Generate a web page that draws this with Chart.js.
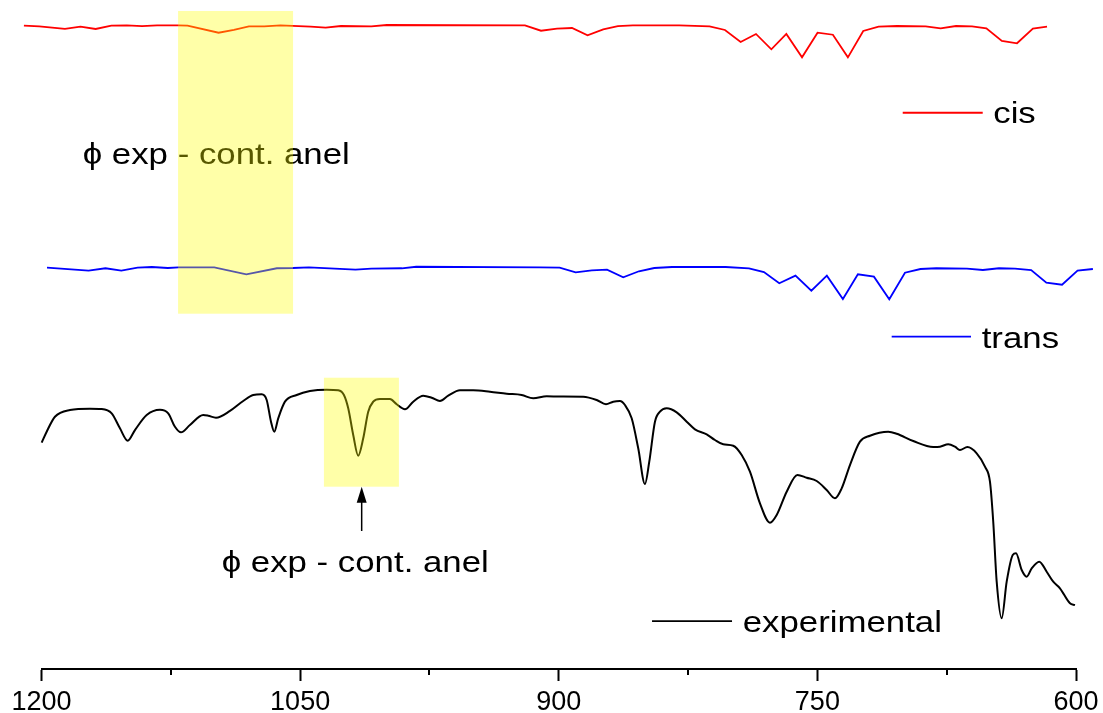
<!DOCTYPE html>
<html>
<head>
<meta charset="utf-8">
<title>IR spectra: cis, trans, experimental</title>
<script src="https://cdn.jsdelivr.net/npm/chart.js@4/dist/chart.umd.min.js"></script>
<style>
  html, body { margin: 0; padding: 0; background: #ffffff; }
  #wrap { width: 1103px; height: 713px; }
</style>
</head>
<body>
<div id="wrap"><canvas id="spectra" width="1103" height="713"></canvas></div>
<script>
// ---- x axis (wavenumber, cm-1) ----
const majorTicks = [1200, 1050, 900, 750, 600];
const minorTicks = [1125, 975, 825, 675];

// ---- calculated spectrum, cis isomer (offset signal) ----
const cisWavenumber = [1210.2, 1201.3, 1186.4, 1177.4, 1168.6, 1159.5, 1150.5, 1141.7, 1133.0, 1120.9,
  1115.3, 1097.3, 1088.4, 1079.7, 1070.8, 1061.4, 1043.9, 1035.2, 1026.3, 1008.7,
  999.7, 919.6, 910.3, 901.0, 892.3, 883.3, 874.2, 865.7, 857.0, 830.1,
  812.5, 803.6, 794.5, 785.6, 776.7, 768.0, 758.9, 749.9, 741.0, 732.3,
  723.4, 714.5, 703.8, 687.2, 678.5, 669.6, 660.3, 652.0, 643.0, 634.2,
  625.0, 616.8];
const cisSignal = [96.16, 96.07, 95.67, 96.01, 95.67, 96.16, 96.22, 96.11, 96.22, 96.22,
  96.16, 95.11, 95.52, 96.07, 96.07, 96.22, 96.01, 95.86, 96.11, 96.07,
  96.26, 96.22, 95.41, 95.71, 95.81, 94.72, 95.62, 96.11, 96.22, 96.22,
  96.07, 95.52, 93.72, 94.92, 92.63, 94.92, 91.43, 95.11, 94.81, 91.43,
  95.37, 96.01, 96.11, 96.07, 95.77, 96.11, 96.07, 95.77, 93.87, 93.53,
  95.71, 96.01];

// ---- calculated spectrum, trans isomer (offset signal) ----
const transWavenumber = [1196.8, 1172.7, 1162.9, 1153.7, 1144.3, 1136.0, 1126.7, 1120.5, 1099.8, 1081.2,
  1063.5, 1054.2, 1044.9, 1017.9, 1008.7, 991.0, 982.7, 910.9, 899.5, 890.2,
  880.8, 872.0, 862.6, 853.5, 844.6, 834.3, 803.2, 789.7, 781.0, 772.1,
  762.7, 753.5, 744.5, 735.2, 726.5, 717.2, 708.3, 699.2, 690.2, 681.0,
  663.3, 654.0, 644.7, 635.4, 626.0, 617.2, 608.1, 599.1, 590.2];
const transSignal = [59.99, 59.54, 59.90, 59.54, 59.99, 60.09, 59.94, 60.04, 60.04, 59.00,
  59.90, 59.94, 60.04, 59.69, 59.84, 59.90, 60.13, 60.04, 59.99, 59.30,
  59.60, 59.69, 58.55, 59.45, 59.94, 60.09, 60.09, 59.90, 59.34, 57.65,
  58.79, 56.55, 58.79, 55.31, 59.00, 58.64, 55.26, 59.24, 59.79, 59.90,
  59.84, 59.64, 59.90, 59.84, 59.64, 57.74, 57.44, 59.54, 59.79];

// ---- measured spectrum ----
const expWavenumber = [1199.9, 1197.0, 1192.2, 1183.5, 1171.9, 1165.1, 1159.3, 1154.5, 1150.0, 1145.8,
  1139.0, 1131.3, 1126.5, 1122.6, 1119.1, 1113.9, 1106.2, 1103.3, 1098.8, 1090.7,
  1083.0, 1077.2, 1072.3, 1069.4, 1066.9, 1065.0, 1062.7, 1058.8, 1052.0, 1044.3,
  1034.6, 1027.9, 1024.6, 1022.1, 1019.2, 1016.3, 1013.4, 1010.5, 1007.6, 1003.7,
  997.9, 994.0, 989.2, 984.4, 978.6, 973.7, 968.9, 964.1, 957.3, 949.6,
  939.9, 930.2, 921.5, 914.8, 907.0, 899.3, 885.8, 878.0, 872.6, 868.4,
  864.5, 861.6, 857.7, 853.9, 850.0, 847.5, 844.2, 841.3, 837.4, 831.6,
  825.8, 821.0, 814.2, 809.4, 804.6, 798.8, 793.9, 789.1, 783.3, 777.5,
  773.6, 767.8, 761.6, 756.2, 750.4, 744.6, 739.8, 735.9, 731.1, 725.3,
  719.5, 708.9, 704.0, 694.4, 682.8, 678.9, 674.1, 670.2, 667.3, 663.0,
  657.6, 652.8, 649.9, 648.0, 646.0, 643.1, 640.2, 636.7, 634.8, 631.5,
  628.6, 625.7, 621.3, 617.0, 613.2, 609.3, 603.5, 600.6];
const expSignal = [33.83, 35.47, 37.71, 38.71, 38.91, 38.86, 38.22, 35.98, 34.13, 35.72,
  37.97, 38.76, 38.22, 36.22, 35.38, 36.47, 37.97, 37.86, 37.56, 38.57,
  40.06, 40.96, 41.06, 40.21, 36.97, 35.47, 37.47, 39.96, 40.96, 41.55,
  41.75, 41.66, 40.96, 38.97, 34.98, 31.88, 34.48, 38.46, 39.96, 40.36,
  40.36, 39.57, 38.82, 39.96, 40.85, 40.55, 40.06, 40.85, 41.66, 41.66,
  41.45, 41.15, 40.96, 40.46, 40.76, 40.73, 40.70, 40.21, 39.57, 39.96,
  40.06, 39.46, 37.47, 32.99, 27.65, 30.99, 36.97, 38.46, 38.97, 38.37,
  36.97, 35.83, 35.08, 34.23, 33.59, 33.38, 31.99, 29.49, 24.77, 21.87,
  23.02, 26.50, 29.00, 28.59, 28.10, 26.76, 25.52, 27.01, 30.49, 33.98,
  34.87, 35.47, 35.17, 34.08, 33.18, 33.23, 33.59, 33.23, 32.74, 33.18,
  32.24, 30.24, 28.00, 22.02, 13.05, 7.58, 13.05, 17.04, 17.29, 14.80,
  13.80, 15.05, 16.04, 14.54, 13.05, 12.06, 9.82, 9.57];

const seriesNames = ['cis', 'trans', 'experimental'];
const phiLabel = '\u03D5 exp - cont. anel';

// ---- annotation layout (in axis units) ----
const FONT = '"Liberation Sans", Arial, Helvetica, sans-serif';
const TEXT_STRETCH = 1.16;
const legendKeys = [
  { name: seriesNames[0], color: '#ff0000', x1: 700.5, x2: 654.1, y: 83.15, tx: 648.0, ty: 81.57 },
  { name: seriesNames[1], color: '#0000ff', x1: 706.9, x2: 660.9, y: 49.67, tx: 654.7, ty: 47.94 },
  { name: seriesNames[2], color: '#000000', x1: 845.9, x2: 799.5, y: 7.17,  tx: 793.3, ty: 5.58 }
];
const noteLabels = [
  { text: phiLabel, x: 1176.1, y: 75.44 },
  { text: phiLabel, x: 1095.5, y: 14.54 }
];
const noteArrow = { x: 1014.3, yFrom: 20.63, yTo: 27.25 };
const highlightBoxes = [
  { x1: 1120.8, x2: 1054.1, y1: 98.36, y2: 53.11 },
  { x1: 1036.2, x2: 992.7,  y1: 43.54, y2: 27.25 }
];

function zipPoints(xs, ys) {
  return xs.map((x, i) => ({ x: x, y: ys[i] }));
}

function drawStretchedText(ctx, text, px, py) {
  ctx.save();
  ctx.translate(px, py);
  ctx.scale(TEXT_STRETCH, 1);
  ctx.font = '30px ' + FONT;
  ctx.fillStyle = '#000000';
  ctx.textAlign = 'left';
  ctx.textBaseline = 'alphabetic';
  ctx.fillText(text, 0, 0);
  ctx.restore();
}

const overlayPlugin = {
  id: 'spectrumOverlay',
  afterDraw(chart) {
    const ctx = chart.ctx;
    const xs = chart.scales.x;
    const ys = chart.scales.y;
    const area = chart.chartArea;

    // minor ticks on the wavenumber axis
    ctx.save();
    ctx.strokeStyle = '#000000';
    ctx.lineWidth = 2;
    minorTicks.forEach(v => {
      const px = Math.round(xs.getPixelForValue(v));
      ctx.beginPath();
      ctx.moveTo(px, area.bottom);
      ctx.lineTo(px, area.bottom + 6);
      ctx.stroke();
    });
    ctx.restore();

    // legend keys next to each trace
    legendKeys.forEach(k => {
      ctx.save();
      ctx.strokeStyle = k.color;
      ctx.lineWidth = 1.8;
      ctx.beginPath();
      ctx.moveTo(xs.getPixelForValue(k.x1), ys.getPixelForValue(k.y));
      ctx.lineTo(xs.getPixelForValue(k.x2), ys.getPixelForValue(k.y));
      ctx.stroke();
      ctx.restore();
      drawStretchedText(ctx, k.name, xs.getPixelForValue(k.tx), ys.getPixelForValue(k.ty));
    });

    // band assignment notes
    noteLabels.forEach(n => {
      drawStretchedText(ctx, n.text, xs.getPixelForValue(n.x), ys.getPixelForValue(n.y));
    });

    // arrow pointing at the highlighted band
    const ax = xs.getPixelForValue(noteArrow.x);
    const ay0 = ys.getPixelForValue(noteArrow.yFrom);
    const ay1 = ys.getPixelForValue(noteArrow.yTo);
    ctx.save();
    ctx.strokeStyle = '#000000';
    ctx.fillStyle = '#000000';
    ctx.lineWidth = 1.5;
    ctx.beginPath();
    ctx.moveTo(ax, ay0);
    ctx.lineTo(ax, ay1 + 12);
    ctx.stroke();
    ctx.beginPath();
    ctx.moveTo(ax, ay1);
    ctx.lineTo(ax - 5, ay1 + 16);
    ctx.lineTo(ax + 5, ay1 + 16);
    ctx.closePath();
    ctx.fill();
    ctx.restore();

    // translucent highlight boxes laid over the traces
    ctx.save();
    ctx.fillStyle = 'rgba(255, 255, 0, 0.34)';
    highlightBoxes.forEach(b => {
      const l = xs.getPixelForValue(b.x1);
      const r = xs.getPixelForValue(b.x2);
      const t = ys.getPixelForValue(b.y1);
      const bt = ys.getPixelForValue(b.y2);
      ctx.fillRect(l, t, r - l, bt - t);
    });
    ctx.restore();
  }
};

Chart.defaults.font.family = FONT;
Chart.defaults.color = '#000000';

new Chart(document.getElementById('spectra'), {
  type: 'line',
  data: {
    datasets: [
      {
        label: seriesNames[0],
        data: zipPoints(cisWavenumber, cisSignal),
        borderColor: '#ff0000',
        borderWidth: 1.8,
        pointRadius: 0,
        tension: 0,
        clip: false
      },
      {
        label: seriesNames[1],
        data: zipPoints(transWavenumber, transSignal),
        borderColor: '#0000ff',
        borderWidth: 1.8,
        pointRadius: 0,
        tension: 0,
        clip: false
      },
      {
        label: seriesNames[2],
        data: zipPoints(expWavenumber, expSignal),
        borderColor: '#000000',
        borderWidth: 2,
        pointRadius: 0,
        cubicInterpolationMode: 'monotone',
        clip: false
      }
    ]
  },
  options: {
    responsive: false,
    animation: false,
    events: [],
    layout: { autoPadding: false, padding: { left: 41.5, right: 27, top: 0, bottom: -11 } },
    plugins: {
      legend: { display: false },
      tooltip: { enabled: false },
      title: { display: false }
    },
    scales: {
      x: {
        type: 'linear',
        reverse: true,
        min: 600,
        max: 1200,
        afterBuildTicks(scale) {
          scale.ticks = majorTicks.map(v => ({ value: v }));
        },
        ticks: {
          autoSkip: false,
          maxRotation: 0,
          padding: 4,
          color: '#000000',
          font: { size: 27, lineHeight: 1.296 },
          callback: v => String(v)
        },
        grid: {
          display: true,
          drawOnChartArea: false,
          drawTicks: true,
          tickLength: 12,
          tickWidth: 2,
          tickColor: '#000000'
        },
        border: { display: true, color: '#000000', width: 2 }
      },
      y: {
        display: false,
        min: 0,
        max: 100
      }
    }
  },
  plugins: [overlayPlugin]
});
</script>
</body>
</html>
